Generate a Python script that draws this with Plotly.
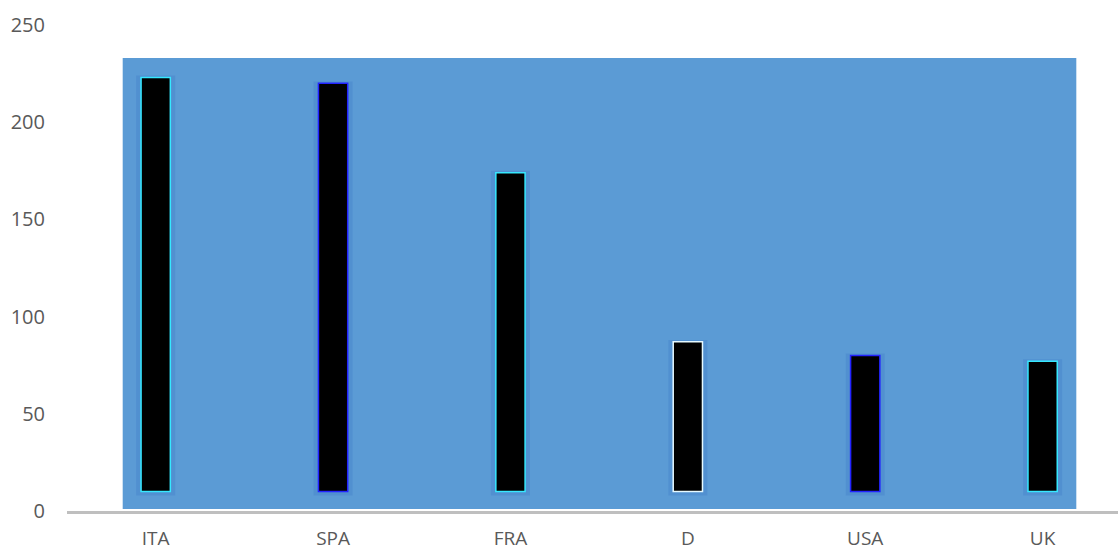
import plotly.graph_objects as go

# Country categories and their values
countries = ["ITA", "SPA", "FRA", "D", "USA", "UK"]
values = [223, 220, 174, 87, 80, 77]
bar_base = 10

# Edge tint of each bar
edge_colors = ["#36e8ff", "#2323ff", "#36e8ff", "#e6f9ff", "#2323ff", "#36e8ff"]

y_ticks = [0, 50, 100, 150, 200, 250]

fig = go.Figure()

# soft halo behind each bar
fig.add_trace(go.Bar(
    x=countries,
    y=[v - bar_base + 3 for v in values],
    base=bar_base - 2,
    width=0.22,
    marker=dict(color="rgba(60,120,200,0.3)", line=dict(width=0)),
    hoverinfo="skip",
    showlegend=False,
))

# main black bars
fig.add_trace(go.Bar(
    x=countries,
    y=[v - bar_base for v in values],
    base=bar_base,
    width=0.165,
    marker=dict(color="#000000", line=dict(color=edge_colors, width=1.5)),
    showlegend=False,
))

# blue panel behind the bars
fig.add_shape(
    type="rect", xref="x", yref="y",
    x0=-0.186, x1=5.19, y0=1, y1=233,
    fillcolor="#5b9bd5", line=dict(width=0), layer="below",
)

fig.update_layout(
    width=1118, height=552,
    margin=dict(l=67, r=0, t=25, b=41, autoexpand=False),
    paper_bgcolor="white", plot_bgcolor="white",
    barmode="overlay",
    font=dict(family="Open Sans", color="#595959", size=19),
    xaxis=dict(
        range=[-0.5, 5.425], automargin=False,
        showline=True, linecolor="#bfbfbf", linewidth=3,
        showgrid=False, zeroline=False, ticks="",
        ticklabelstandoff=8,
        tickfont=dict(size=19, color="#595959"),
    ),
    yaxis=dict(
        range=[0, 250], tickvals=y_ticks, automargin=False,
        showline=False, showgrid=False, zeroline=False, ticks="",
        ticklabelstandoff=21,
        tickfont=dict(size=20, color="#595959"),
    ),
)

fig.write_html("out.html")
